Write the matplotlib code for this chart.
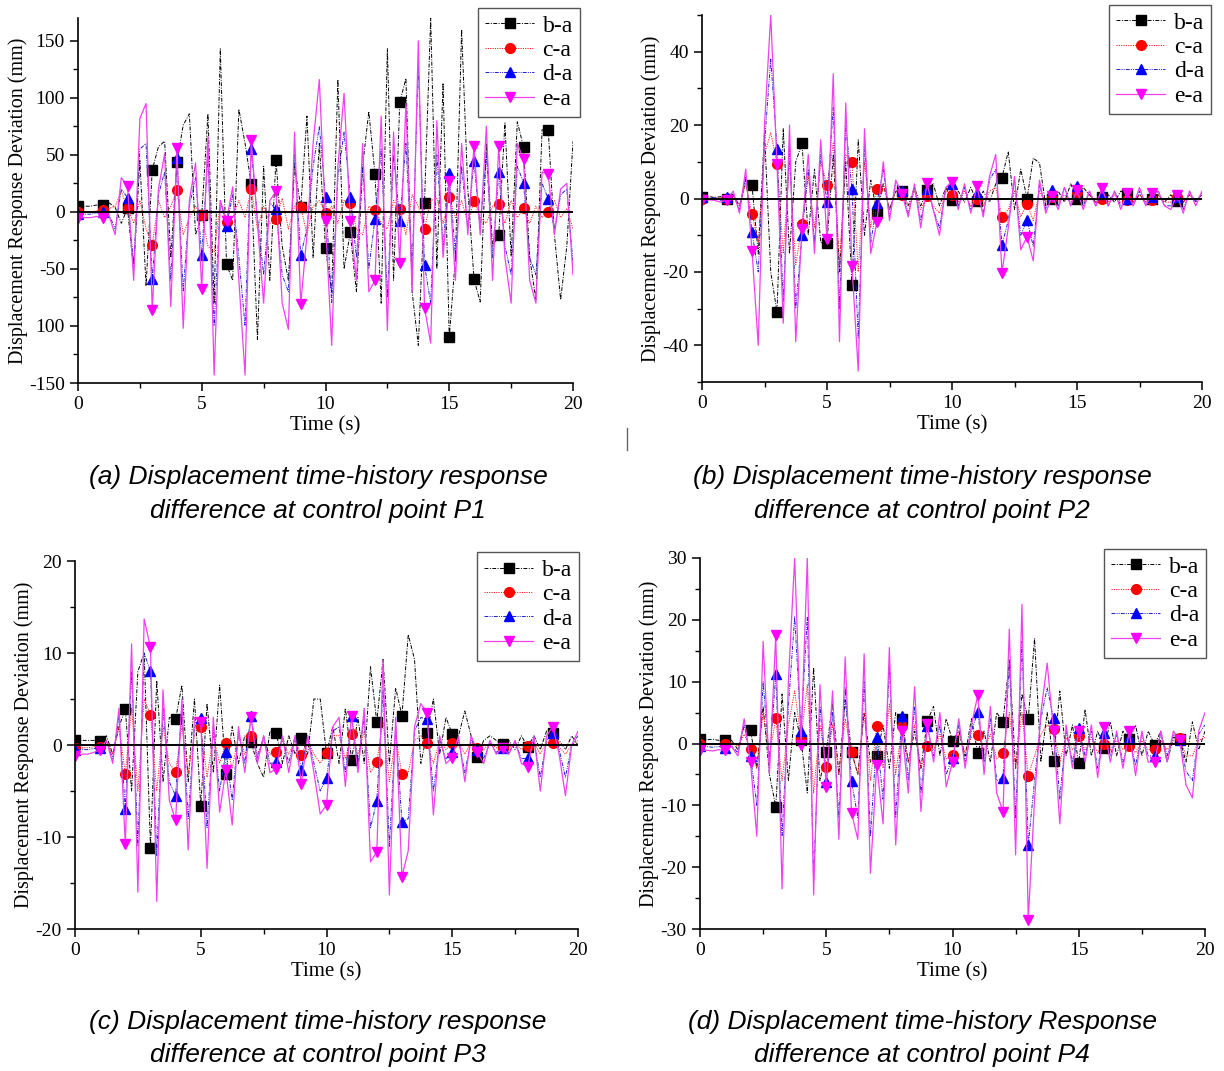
import numpy as np
import matplotlib
matplotlib.use("Agg")
import matplotlib.pyplot as plt
from matplotlib.lines import Line2D
from matplotlib.ticker import MultipleLocator

plt.rcParams['font.family'] = ['Liberation Serif', 'DejaVu Serif']

# time grid: one sample every 0.25 s, markers on every whole second
time_s = np.arange(0, 20.001, 0.25)
series_names = ['b-a', 'c-a', 'd-a', 'e-a']

# ---------------- (a) control point P1 ----------------
p1_ba = [5, 5, 5, 6,  6, 8, 4, -10,  3, -51, 45, -65,  37, 57, 62, -40,
         43.5, 76, 86, -20,  -3, 86, -80, 143,  -46, -60, 90, 60,  24.5, -112, 40, -60,
         45.6, -30, -60, 40,  4, 84, -40, 60,  -32, -70, 116, -50,  -18, -70, 40, 88,
         33, -80, 143, -60,  96, 117, -70, -117,  8, 170, -50, 113,  -110, -40, 160, 20,
         -59, -79, 60, -30,  -20, 78, -39, 79,  57, -40, -77, 72,  71.6, -20, -77, -30,  62]
p1_ca = [0, 0, 0, 1,  2, 3, 5, 18,  3.5, -10, 10, -15,  -29, 10, -5, 5,
         19, -20, -5, 5,  -3, -30, -35, 8,  -9, -5, 10, -5,  20.5, -15, 5, -10,
         -6, 12, -15, 5,  4.7, -20, 5, 10,  -1, 5, -10, 10,  8, -15, -20, 5,
         1.7, -10, -15, 10,  2.3, -20, 15, 5,  -15, 10, 12, -10,  13, -5, 10, -10,
         10, -5, -10, 5,  6.7, -10, 10, -5,  3.2, -10, 5, -5,  0.3, 10, -5, 3,  -15]
p1_da = [-2, -2, -2, -1,  0, -2, -15, 20,  12.5, -45, 55, 60,  -59, 15, 35, -60,
         47, -70, 5, 30,  -38, 50, -100, 10,  -12, 15, -40, -100,  55, -5, -55, 8,
         2.3, -55, -70, 50,  -38, -15, 40, 75,  13, -80, 30, 70,  13.5, -40, 40, -50,
         -6, 55, -75, 50,  -7.6, 60, -50, 130,  -46.5, -80, 50, -30,  34.5, -40, 40, -15,
         45, -15, 50, -40,  35, -30, -55, 40,  25.7, -40, -55, 25,  11.4, -15, 15, 20,  -45]
p1_ea = [-5, -5, -5, -4,  -5, -3, -20, 30,  23, -60, 82, 95,  -86, 20, 51, -83,
         56, -102, 10, 43,  -68, 66, -143, 10,  -8, 22, -60, -143,  63, -10, -80, 10,
         18, -80, -103, 70,  -81, -20, 60, 116,  -8, -117, 40, 104,  -8, -60, 60, -70,
         -60, 84, -104, 70,  -45, 95, -70, 150,  -84, -115, 80, -40,  27, -60, 60, -20,
         58, -20, 75, -60,  58, -40, -80, 60,  46, -60, -80, 35,  33, -20, 20, 25,  -55]

# ---------------- (b) control point P2 ----------------
p2_ba = [0.5, 0.5, 0.3, 0.5,  0, 1, -2, 5,  3.6, -15, 18, -20,  -31, 19, -15, 10,
         15, -10, 8, -12,  -12.2, 12, -20, 10,  -23.6, 16, -10, 5,  -4, 4, -3, 2,
         2, -2, 3, -2,  2.4, 4, -2, 3,  -0.4, 2, -1, 3,  -0.8, 2, -1, 4,
         5.7, 12.8, -3, 8,  0, 11, 9.7, -2,  -0.2, 2, -1, 4,  -0.2, 3, 1, -1,
         0.5, 1, -1, 2,  1.2, -1, 1, -1,  0, 1, -1, 1,  -0.8, -1, 1, -0.5,  1]
p2_ca = [0, 0, 0, 0.3,  0, 1, -2, 4,  -4.3, -12, 12, 18,  9.4, -15, 10, -18,
         -7, 6, -8, 10,  3.7, 15, -18, 12,  9.9, -20, 10, -8,  2.7, 4, -3, 2,
         1, -2, 2, -3,  0.7, -2, -4, 2,  0.9, -1, 2, -2,  -0.2, -2, 2, 3,
         -5, -3, 2, -5,  -1.5, -6, 2, -1,  0.5, -1, 1, -1,  1.9, -1, 1, -1,
         0, -1, 1, -1,  -0.4, -1, 1, -1,  -0.4, 1, -1, -1,  0.5, -1, 1, -1,  1]
p2_da = [0.5, 0, 0.3, -0.5,  0.3, 1, -3, 6,  -9.2, -20, 15, 38,  13.6, -28, 15, -30,
         -10, 8, -12, 12,  -1, 25, -30, 20,  2.5, -38, 15, -12,  -1.2, 8, -5, 4,
         2, -4, 3, -6,  2.6, -3, -8, 3,  4, -2, 3, -3,  1.6, -4, 5, 8,
         -12.7, -6, 5, -10,  -5.8, -13, 4, -3,  2.2, -2, 3, -2,  3.3, -2, 2, -2,
         1.3, -2, 2, -2,  -0.2, -2, 2, -2,  0.4, 2, -2, -2,  0.4, -3, 2, -1,  1.5]
p2_ea = [-0.5, -0.3, -0.5, -1,  -0.3, 2, -4, 8,  -14.2, -40, 20, 50,  9.3, -34, 20, -39,
         -8.2, 12, -15, 16,  -11.1, 34, -39, 26,  -18.4, -47, 19, -15,  -6.3, 10, -6, 5,
         1.3, -5, 4, -8,  4.2, -3, -10, 3,  4.6, -3, 4, -4,  3.3, -5, 6, 12,
         -20.2, -8, 6, -14,  -10.4, -17, 5, -4,  0.7, -3, 3, -2,  2.4, -3, 2, -2,
         2.8, -2, 2, -3,  1.5, -2, 3, -2,  1.5, 2, -2, -3,  1, -4, 2, -2,  2]

# ---------------- (c) control point P3 ----------------
p3_ba = [0.5, 0.5, 0.5, 0.5,  0.4, 1, -1, 2,  3.9, -5, 8, 10,  -11.2, 7, -4, 3,
         2.8, 6.5, -4, 5,  -6.6, 4.5, -3, 6.5,  -3.1, 2, -2, 1,  0.3, -2, -3.5, 1.5,
         1.3, -2, 1, -1,  0.8, -1, 5, 5,  -0.9, 2, -2, 4,  -1.6, 3, -2, 8.5,
         2.5, 9.3, -2, 6.2,  3.2, 12, 9.3, -2,  1.3, 5, -1, 3,  1.2, 1, 3.7, 1,
         -1.3, 0.5, 1, 0.5,  0.1, 0.5, -0.5, 1,  -0.2, 1, -0.5, 1.5,  1.3, 0.5, -0.5, 1,  0]
p3_ca = [-0.3, -0.3, -0.3, -0.2,  -0.2, 0.3, -1, 2,  -3.1, 4, -5, 5,  3.3, -5, 2, -2,
         -2.9, 2, -3, 1,  2, -3.5, 1, -2,  0.2, -2.5, 1, -1,  1, -1, 0.5, -1,
         -0.8, 0.5, -1, 0.5,  -1.1, 0.5, -1, -2,  -0.9, 1, 1, -1.5,  1.2, -1, 1.5, -3,
         -1.8, 2.5, -4, 1,  -3.2, -3, 0.5, 1,  0.25, -2, 0.5, -0.5,  0.2, 0.3, -1, 0.3,
         -0.3, -0.5, 0.2, -0.3,  -0.3, -0.3, 0.2, -0.5,  -0.1, 0.3, -1, 0.3,  0.2, -0.2, -1, 0,  0.5]
p3_da = [-0.5, -0.5, -0.5, -0.4,  -0.3, 0.5, -1.5, 3,  -7, 8, -11, 10,  8, -12, 4, -4,
         -5.5, 4, -8, 2,  2.9, -9, 2, -5,  -0.8, -6, 1.5, -2,  3.2, -1.5, 1, -2,
         -1.9, 1, -2, 1,  -2.7, 1, -2, -5,  -3.6, 1.5, 2, -3,  3.1, -2, 3, -9,
         -6.1, 6, -11, 2,  -8.4, -8, 1.5, 3,  2.8, -5, 0.5, -1.5,  -0.8, 0.5, -3, 0.5,
         -0.5, -1.5, 0.3, -0.8,  -0.3, -0.8, 0.3, -1.5,  -1.4, 0.5, -3.5, 0.5,  1.3, -0.5, -3.5, 0,  1]
p3_ea = [-1.2, -1, -1, -0.8,  -0.5, 0.5, -2, 4,  -10.8, 11, -16, 13.7,  10.6, -17, 6, -6,
         -8.2, 5, -11.4, 3,  2.5, -13.4, 3, -7.3,  -2.7, -8.7, 2, -3,  3, -2, 1, -3,
         -2.6, 1, -3, 1,  -4.2, 1, -3, -7.5,  -6.5, 2, 3, -4.5,  3.2, -3, 4, -12.7,
         -11.6, 9.2, -16.3, 3,  -14.3, -11.5, 2, 4.5,  3.5, -7.6, 1, -2,  -1.4, 1, -4, 1,
         -0.8, -2, 0.5, -1,  -0.3, -1, 0.5, -2,  -2.4, 1, -5, 1,  2, -1, -5.5, 0,  1.5]

# ---------------- (d) control point P4 ----------------
p4_ba = [0.7, 0.6, 0.7, 0.5,  0.6, 0.5, -1, 3,  2.2, -4, 6, -5,  -10.2, 8, -6, 5,
         0.6, -8, 12.3, -6,  -1.3, 6.5, -5, 7,  -1.3, -5, 5, -3,  -2.1, 3, -4, 5,
         4, -3, 2, -4,  3.6, 6, -2, 4,  0.4, 2, -2, 4,  -1.5, 2, -3, 5,
         3.5, 13.5, -4, 8,  3.9, 17, -3, 5,  -2.8, 8.5, -2, 3,  -3.1, 5.5, -2, 2,
         -0.7, 3.5, -2, 2,  0.7, 3, -2, 2,  -0.2, 2, -3, 1,  0.7, -3, 3.5, -1,  2]
p4_ca = [0, 0, 0, 0,  0, 0.2, -0.5, 1.5,  -0.9, -4, 5, -2,  4.1, -6, 3, 8.5,
         0.8, 9.5, -8, 3,  -3.8, 3, -5, 4,  -1.3, -5, 5, -6,  2.8, -4, 6.5, -5,
         2.9, -3, 3, -4,  -0.4, -1, 1.5, -2.5,  -1.8, 1.5, -1.5, 1,  1.4, -1, 1.5, -2.5,
         -1.5, 5, -4, 5,  -5.2, -2, 1.5, 3,  2.4, -3, 1, -1,  1.2, -1, 1, -1.5,
         0, -1, 0.5, -1,  -0.4, -1.5, 0.5, -1,  -0.9, 0.5, -1, 0.5,  0.9, -2, -2, 0.5,  1]
p4_da = [-0.4, -0.5, -0.6, -0.5,  -0.7, -0.3, -1.5, 3,  -2, -10, 10, -3,  11.2, -15, 6, 20.5,
         2.1, 20.5, -22, 6,  -6.3, 5, -12, 9,  -6, -12, 10, -15,  1.1, -9, 12.5, -12,
         4.4, -6, 6, -8,  2.8, -2, 3, -5,  -2.3, 3, -3, 2,  5.1, -3, 4, -6,
         -5.5, 13, -12, 16.5,  -16.4, -6, 4, 9,  4.1, -9, 2, -3,  2.5, -2, 2, -4,
         1.7, -2, 1.5, -3,  0.9, -3.5, 1.5, -2,  -2, 1.5, -2, 1.5,  0.6, -4.5, -6, 1.5,  3]
p4_ea = [-1.1, -1.1, -1.2, -1,  -1.1, -0.5, -2, 4,  -3, -15, 16.5, -5,  17.5, -23.5, 10, 30,
         -0.3, 30, -24.5, 9.5,  -7.1, 8.5, -15.5, 14,  -11.2, -15.5, 14.5, -21,  -3.4, -13, 15.5, -16.4,
         2, -8, 9.2, -11,  3.2, -3, 5, -7,  -3, 4, -4, 3,  7.8, -5, 6, -8,
         -11, 18.5, -18, 22.5,  -28.5, -9, 5, 13,  2, -13, 3, -4,  2.1, -3, 3, -5.5,
         2.7, -3, 2, -4,  2, -5.2, 2, -3,  -3, 2, -3, 2,  0.5, -6.7, -8.8, 2,  5]

panels = [
    dict(data=[p1_ba, p1_ca, p1_da, p1_ea], ylim=(-150, 170), minor=25,
         yticks=[-150, -100, -50, 0, 50, 100, 150],
         yticklabels=['-150', '100', '-50', '0', '50', '100', '150'],
         pos=[78, 18, 573, 383], leg=(1.014, 1.027), cap_x=318, cap_y=(477, 511),
         caption=['(a) Displacement time-history response', 'difference at control point P1']),
    dict(data=[p2_ba, p2_ca, p2_da, p2_ea], ylim=(-50, 50), minor=10,
         yticks=[-40, -20, 0, 20, 40], yticklabels=['-40', '-20', '0', '20', '40'],
         pos=[702, 15, 1202, 382], leg=(1.018, 1.027), cap_x=922, cap_y=(477, 511),
         caption=['(b) Displacement time-history response', 'difference at control point P2']),
    dict(data=[p3_ba, p3_ca, p3_da, p3_ea], ylim=(-20, 20), minor=5,
         yticks=[-20, -10, 0, 10, 20], yticklabels=['-20', '-10', '0', '10', '20'],
         pos=[75, 561, 578, 929], leg=(1.002, 1.024), cap_x=318, cap_y=(1022, 1055),
         caption=['(c) Displacement time-history response', 'difference at control point P3']),
    dict(data=[p4_ba, p4_ca, p4_da, p4_ea], ylim=(-30, 30), minor=5,
         yticks=[-30, -20, -10, 0, 10, 20, 30],
         yticklabels=['-30', '-20', '-10', '0', '10', '20', '30'],
         pos=[700, 558, 1205, 929], leg=(1.002, 1.024), cap_x=922, cap_y=(1022, 1055),
         caption=['(d) Displacement time-history Response', 'difference at control point P4']),
]

# line / marker styles for b-a, c-a, d-a, e-a
styles = [
    dict(color='black', ls=(0, (4, 1.5, 1, 1.5)), marker='s', mfc='black', mec='black', lw=0.7),
    dict(color='#ff2020', ls=(0, (1.2, 1.2)), marker='o', mfc='#ff0000', mec='#ff0000', lw=0.7),
    dict(color='#2020d0', ls=(0, (4, 1.2, 1, 1.2, 1, 1.2)), marker='^', mfc='#0000ff', mec='#0000ff', lw=0.7),
    dict(color='#f040f0', ls='-', marker='v', mfc='#ff00ff', mec='#ff00ff', lw=0.9),
]

W, H = 1224, 1071
fig = plt.figure(figsize=(W / 100, H / 100), dpi=100)

for p in panels:
    x0, y0, x1, y1 = p['pos']
    ax = fig.add_axes([x0 / W, 1 - y1 / H, (x1 - x0) / W, (y1 - y0) / H])
    for name, ser, st in zip(series_names, p['data'], styles):
        ax.plot(time_s, ser, color=st['color'], ls=st['ls'], lw=st['lw'],
                marker=st['marker'], markevery=list(range(0, 80, 4)), ms=7,
                mfc=st['mfc'], mec=st['mec'], label=name)
    ax.axhline(0, color='black', lw=1.4, zorder=5)
    ax.set_xlim(0, 20)
    ax.set_ylim(*p['ylim'])
    ax.set_xticks([0, 5, 10, 15, 20])
    ax.xaxis.set_minor_locator(MultipleLocator(2.5))
    ax.set_yticks(p['yticks'])
    ax.set_yticklabels(p['yticklabels'])
    ax.yaxis.set_minor_locator(MultipleLocator(p['minor']))
    for s in ['top', 'right']:
        ax.spines[s].set_visible(False)
    for s in ['left', 'bottom']:
        ax.spines[s].set_linewidth(1.2)
    ax.tick_params(which='major', direction='out', length=6, width=1.1, labelsize=14)
    ax.tick_params(which='minor', direction='out', length=3.5, width=1.0)
    ax.set_xlabel('Time (s)', fontsize=15, labelpad=2)
    ax.set_ylabel('Displacement Response Deviation (mm)', fontsize=14.5, labelpad=1)
    leg = ax.legend(loc='upper right', bbox_to_anchor=p['leg'], fontsize=17,
                    handlelength=2.1, handletextpad=0.35, labelspacing=0.12,
                    borderpad=0.3, fancybox=False, framealpha=1, borderaxespad=0)
    leg.get_frame().set_edgecolor('#555555')
    leg.get_frame().set_linewidth(1.0)
    for line_txt, cy in zip(p['caption'], p['cap_y']):
        fig.text(p['cap_x'] / W, 1 - cy / H, line_txt, ha='center', va='center',
                 fontsize=19, style='italic', family='Liberation Sans')

# small stray mark between the top panels
fig.add_artist(Line2D([627 / W, 627 / W], [1 - 428 / H, 1 - 450 / H], color='#666666', lw=1))

fig.savefig('out.png', dpi=100)
